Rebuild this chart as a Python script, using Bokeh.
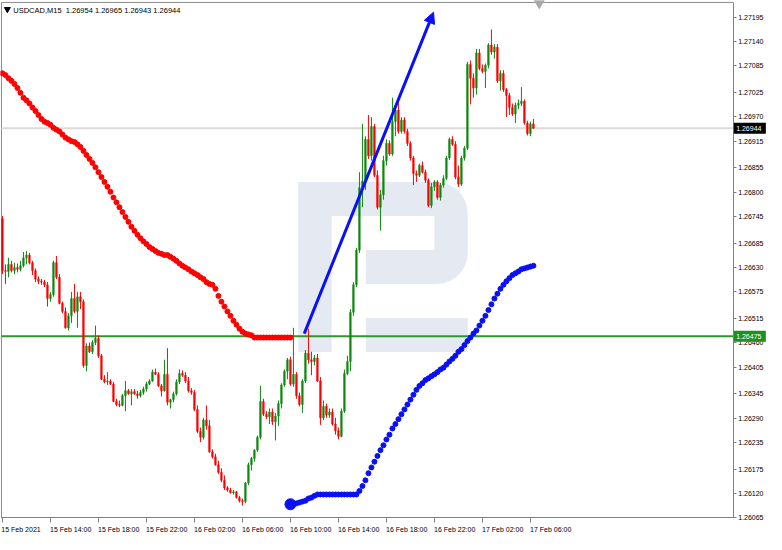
import numpy as np
from bokeh.plotting import figure
from bokeh.models import FixedTicker, PrintfTickFormatter, Arrow, NormalHead, ColumnDataSource
from bokeh.core.properties import value
from bokeh.embed import file_html
from bokeh.resources import INLINE

# ---------------- data ----------------
symbol = "USDCAD,M15"
x_tick_index = [0, 16, 32, 48, 64, 80, 96, 112, 128, 144, 160, 176]
x_tick_labels = ["15 Feb 2021", "15 Feb 14:00", "15 Feb 18:00", "15 Feb 22:00",
                 "16 Feb 02:00", "16 Feb 06:00", "16 Feb 10:00", "16 Feb 14:00",
                 "16 Feb 18:00", "16 Feb 22:00", "17 Feb 02:00", "17 Feb 06:00"]
y_ticks = [1.26065, 1.26120, 1.26175, 1.26235, 1.26290, 1.26345, 1.26405, 1.26460,
           1.26515, 1.26575, 1.26630, 1.26685, 1.26745, 1.26800, 1.26855, 1.26915,
           1.26970, 1.27025, 1.27085, 1.27140, 1.27195]

opens = [1.26740, 1.26623, 1.26621, 1.26637, 1.26623, 1.26630, 1.26626, 1.26634, 1.26652, 1.26658,
         1.26641, 1.26623, 1.26604, 1.26599, 1.26597, 1.26591, 1.26560, 1.26569, 1.26641, 1.26608,
         1.26549, 1.26531, 1.26494, 1.26521, 1.26560, 1.26531, 1.26564, 1.26553, 1.26409, 1.26453,
         1.26440, 1.26461, 1.26470, 1.26431, 1.26378, 1.26372, 1.26374, 1.26367, 1.26328, 1.26321,
         1.26319, 1.26341, 1.26352, 1.26345, 1.26350, 1.26345, 1.26341, 1.26348, 1.26356, 1.26367,
         1.26374, 1.26394, 1.26389, 1.26363, 1.26352, 1.26389, 1.26326, 1.26332, 1.26345, 1.26372,
         1.26391, 1.26387, 1.26374, 1.26352, 1.26348, 1.26310, 1.26260, 1.26247, 1.26286, 1.26273,
         1.26214, 1.26203, 1.26185, 1.26168, 1.26150, 1.26133, 1.26128, 1.26122, 1.26124, 1.26111,
         1.26104, 1.26102, 1.26144, 1.26185, 1.26199, 1.26218, 1.26247, 1.26328, 1.26299, 1.26293,
         1.26304, 1.26282, 1.26295, 1.26323, 1.26365, 1.26396, 1.26422, 1.26367, 1.26389, 1.26341,
         1.26321, 1.26374, 1.26437, 1.26422, 1.26418, 1.26426, 1.26374, 1.26291, 1.26317, 1.26297,
         1.26304, 1.26277, 1.26262, 1.26249, 1.26306, 1.26391, 1.26418, 1.26529, 1.26591, 1.26669,
         1.26810, 1.26825, 1.26919, 1.26882, 1.26948, 1.26838, 1.26766, 1.26794, 1.26871, 1.26910,
         1.26886, 1.26959, 1.26985, 1.26937, 1.26963, 1.26937, 1.26910, 1.26877, 1.26842, 1.26838,
         1.26860, 1.26845, 1.26827, 1.26770, 1.26812, 1.26823, 1.26788, 1.26816, 1.26831, 1.26877,
         1.26919, 1.26908, 1.26834, 1.26818, 1.26877, 1.26899, 1.27088, 1.27057, 1.27035, 1.27114,
         1.27079, 1.27072, 1.27086, 1.27132, 1.27116, 1.27127, 1.27051, 1.27068, 1.27031, 1.27018,
         1.26991, 1.26976, 1.26996, 1.27000, 1.27005, 1.26956, 1.26932, 1.26954]

highs = [1.26746, 1.26637, 1.26652, 1.26645, 1.26641, 1.26639, 1.26645, 1.26665, 1.26667, 1.26663,
         1.26645, 1.26628, 1.26610, 1.26604, 1.26602, 1.26597, 1.26575, 1.26645, 1.26656, 1.26615,
         1.26553, 1.26540, 1.26527, 1.26575, 1.26593, 1.26575, 1.26575, 1.26558, 1.26459, 1.26461,
         1.26466, 1.26499, 1.26477, 1.26435, 1.26387, 1.26394, 1.26378, 1.26372, 1.26334, 1.26330,
         1.26345, 1.26374, 1.26356, 1.26356, 1.26356, 1.26352, 1.26354, 1.26361, 1.26372, 1.26378,
         1.26400, 1.26402, 1.26394, 1.26367, 1.26422, 1.26448, 1.26334, 1.26350, 1.26378, 1.26400,
         1.26398, 1.26394, 1.26383, 1.26358, 1.26354, 1.26319, 1.26269, 1.26291, 1.26319, 1.26286,
         1.26220, 1.26210, 1.26194, 1.26177, 1.26161, 1.26137, 1.26133, 1.26128, 1.26126, 1.26115,
         1.26109, 1.26146, 1.26190, 1.26203, 1.26220, 1.26251, 1.26363, 1.26334, 1.26306, 1.26312,
         1.26312, 1.26302, 1.26330, 1.26369, 1.26400, 1.26426, 1.26429, 1.26494, 1.26394, 1.26348,
         1.26378, 1.26444, 1.26492, 1.26440, 1.26433, 1.26435, 1.26383, 1.26330, 1.26323, 1.26312,
         1.26312, 1.26291, 1.26269, 1.26312, 1.26400, 1.26431, 1.26536, 1.26597, 1.26674, 1.26845,
         1.26954, 1.26926, 1.26974, 1.26969, 1.26954, 1.26849, 1.26805, 1.26882, 1.26919, 1.26917,
         1.27013, 1.26991, 1.27007, 1.26969, 1.26969, 1.26943, 1.26915, 1.26882, 1.26849, 1.26864,
         1.26869, 1.26851, 1.26831, 1.26821, 1.26827, 1.26827, 1.26821, 1.26838, 1.26882, 1.26923,
         1.26926, 1.26915, 1.26860, 1.26882, 1.26904, 1.27094, 1.27097, 1.27068, 1.27123, 1.27123,
         1.27088, 1.27090, 1.27136, 1.27167, 1.27134, 1.27134, 1.27075, 1.27075, 1.27035, 1.27024,
         1.27000, 1.27002, 1.27009, 1.27037, 1.27009, 1.26961, 1.26959, 1.26965]

lows = [1.26615, 1.26593, 1.26608, 1.26619, 1.26615, 1.26619, 1.26621, 1.26630, 1.26637, 1.26637,
        1.26613, 1.26597, 1.26593, 1.26591, 1.26586, 1.26542, 1.26553, 1.26564, 1.26604, 1.26547,
        1.26527, 1.26492, 1.26488, 1.26505, 1.26527, 1.26494, 1.26536, 1.26404, 1.26396, 1.26437,
        1.26435, 1.26455, 1.26426, 1.26376, 1.26369, 1.26365, 1.26365, 1.26326, 1.26317, 1.26315,
        1.26317, 1.26306, 1.26343, 1.26319, 1.26343, 1.26334, 1.26337, 1.26343, 1.26350, 1.26365,
        1.26372, 1.26387, 1.26361, 1.26339, 1.26350, 1.26319, 1.26312, 1.26326, 1.26341, 1.26367,
        1.26383, 1.26369, 1.26348, 1.26343, 1.26306, 1.26256, 1.26236, 1.26242, 1.26264, 1.26212,
        1.26199, 1.26183, 1.26164, 1.26146, 1.26128, 1.26124, 1.26120, 1.26118, 1.26109, 1.26100,
        1.26093, 1.26098, 1.26139, 1.26172, 1.26192, 1.26214, 1.26242, 1.26295, 1.26288, 1.26277,
        1.26275, 1.26240, 1.26273, 1.26312, 1.26361, 1.26378, 1.26363, 1.26361, 1.26334, 1.26317,
        1.26302, 1.26369, 1.26413, 1.26387, 1.26409, 1.26372, 1.26275, 1.26286, 1.26291, 1.26291,
        1.26273, 1.26253, 1.26242, 1.26247, 1.26302, 1.26387, 1.26396, 1.26521, 1.26586, 1.26663,
        1.26766, 1.26805, 1.26875, 1.26871, 1.26834, 1.26761, 1.26713, 1.26783, 1.26860, 1.26882,
        1.26882, 1.26926, 1.26932, 1.26932, 1.26932, 1.26904, 1.26871, 1.26816, 1.26823, 1.26834,
        1.26842, 1.26821, 1.26766, 1.26764, 1.26803, 1.26783, 1.26781, 1.26810, 1.26827, 1.26873,
        1.26904, 1.26829, 1.26812, 1.26814, 1.26871, 1.26895, 1.26998, 1.27013, 1.27020, 1.27075,
        1.27068, 1.27035, 1.27079, 1.27110, 1.27101, 1.27046, 1.27029, 1.27026, 1.26969, 1.26974,
        1.26972, 1.26956, 1.26987, 1.26994, 1.26952, 1.26928, 1.26926, 1.26943]

closes = [1.26623, 1.26621, 1.26637, 1.26623, 1.26630, 1.26626, 1.26634, 1.26652, 1.26658, 1.26641,
          1.26623, 1.26604, 1.26599, 1.26597, 1.26591, 1.26560, 1.26569, 1.26641, 1.26608, 1.26549,
          1.26531, 1.26494, 1.26521, 1.26560, 1.26531, 1.26564, 1.26553, 1.26409, 1.26453, 1.26440,
          1.26461, 1.26470, 1.26431, 1.26378, 1.26372, 1.26374, 1.26367, 1.26328, 1.26321, 1.26319,
          1.26341, 1.26352, 1.26345, 1.26350, 1.26345, 1.26341, 1.26348, 1.26356, 1.26367, 1.26374,
          1.26394, 1.26389, 1.26363, 1.26352, 1.26389, 1.26326, 1.26332, 1.26345, 1.26372, 1.26391,
          1.26387, 1.26374, 1.26352, 1.26348, 1.26310, 1.26260, 1.26247, 1.26286, 1.26273, 1.26214,
          1.26203, 1.26185, 1.26168, 1.26150, 1.26133, 1.26128, 1.26122, 1.26124, 1.26111, 1.26104,
          1.26102, 1.26144, 1.26185, 1.26199, 1.26218, 1.26247, 1.26328, 1.26299, 1.26293, 1.26304,
          1.26282, 1.26295, 1.26323, 1.26365, 1.26396, 1.26422, 1.26367, 1.26389, 1.26341, 1.26321,
          1.26374, 1.26437, 1.26422, 1.26418, 1.26426, 1.26374, 1.26291, 1.26317, 1.26297, 1.26304,
          1.26277, 1.26262, 1.26249, 1.26306, 1.26391, 1.26418, 1.26529, 1.26591, 1.26669, 1.26810,
          1.26825, 1.26919, 1.26882, 1.26948, 1.26838, 1.26766, 1.26794, 1.26871, 1.26910, 1.26886,
          1.26959, 1.26985, 1.26937, 1.26963, 1.26937, 1.26910, 1.26877, 1.26842, 1.26838, 1.26860,
          1.26845, 1.26827, 1.26770, 1.26812, 1.26823, 1.26788, 1.26816, 1.26831, 1.26877, 1.26919,
          1.26908, 1.26834, 1.26818, 1.26877, 1.26899, 1.27088, 1.27057, 1.27035, 1.27114, 1.27079,
          1.27072, 1.27086, 1.27132, 1.27116, 1.27127, 1.27051, 1.27068, 1.27031, 1.27018, 1.26991,
          1.26976, 1.26996, 1.27000, 1.27005, 1.26956, 1.26932, 1.26954, 1.26944]

# red dotted indicator (bars 0..96)
red_line = [1.27068, 1.27064, 1.27057, 1.27051, 1.27044, 1.27035, 1.27024, 1.27013, 1.27007, 1.27000,
            1.26991, 1.26983, 1.26974, 1.26965, 1.26959, 1.26956, 1.26952, 1.26945, 1.26941, 1.26937,
            1.26930, 1.26923, 1.26919, 1.26915, 1.26913, 1.26908, 1.26902, 1.26893, 1.26884, 1.26875,
            1.26866, 1.26856, 1.26845, 1.26834, 1.26823, 1.26812, 1.26801, 1.26788, 1.26777, 1.26766,
            1.26755, 1.26744, 1.26733, 1.26722, 1.26713, 1.26704, 1.26696, 1.26689, 1.26683, 1.26676,
            1.26672, 1.26667, 1.26663, 1.26661, 1.26658, 1.26658, 1.26654, 1.26650, 1.26645, 1.26639,
            1.26634, 1.26630, 1.26626, 1.26621, 1.26617, 1.26613, 1.26608, 1.26604, 1.26597, 1.26593,
            1.26591, 1.26582, 1.26566, 1.26553, 1.26542, 1.26531, 1.26521, 1.26510, 1.26501, 1.26492,
            1.26485, 1.26481, 1.26479, 1.26477, 1.26472, 1.26472, 1.26472, 1.26472, 1.26472, 1.26472,
            1.26472, 1.26472, 1.26472, 1.26472, 1.26472, 1.26472, 1.26472]

# blue dotted indicator (bars 96..177)
blue_start = 96
blue_line = [1.26096, 1.26096, 1.26098, 1.26100, 1.26102, 1.26104, 1.26109, 1.26111, 1.26115, 1.26118,
             1.26118, 1.26118, 1.26118, 1.26118, 1.26118, 1.26118, 1.26118, 1.26118, 1.26118, 1.26118,
             1.26118, 1.26118, 1.26118, 1.26126, 1.26137, 1.26150, 1.26166, 1.26179, 1.26192, 1.26205,
             1.26218, 1.26229, 1.26242, 1.26253, 1.26267, 1.26277, 1.26288, 1.26299, 1.26310, 1.26321,
             1.26332, 1.26343, 1.26354, 1.26363, 1.26369, 1.26376, 1.26380, 1.26385, 1.26389, 1.26394,
             1.26400, 1.26404, 1.26411, 1.26418, 1.26424, 1.26431, 1.26440, 1.26446, 1.26455, 1.26464,
             1.26472, 1.26481, 1.26488, 1.26499, 1.26510, 1.26521, 1.26534, 1.26547, 1.26560, 1.26571,
             1.26582, 1.26591, 1.26599, 1.26606, 1.26613, 1.26617, 1.26621, 1.26626, 1.26628, 1.26630,
             1.26632, 1.26634]

support_level = 1.26475
current_price = 1.26944
arrow_x = [100.6, 143.7]
arrow_y = [1.26481, 1.27206]


# ------------- layout helpers (reference pixel -> data space) -------------
def px_x(rx):
    return (rx - 2) / 3.0625


def px_y(ry):
    return 1.26065 + (533 - ry) * 0.0000219


XL, XR = px_x(1), px_x(748)          # chart area edges
YB, YT = 1.26065, px_y(2)
FONT = "Liberation Sans"
UP, DOWN = "#0e8a0e", "#ff0000"
BLUE = "#0a10f5"
GRAY = "#808080"

p = figure(width=766, height=534, x_range=(px_x(0), px_x(782)),
           y_range=(px_y(550), px_y(0)), output_backend="svg", toolbar_location=None,
           y_axis_location="right", title=None,
           min_border_left=0, min_border_top=0, min_border_right=0, min_border_bottom=0)
p.grid.visible = False
p.outline_line_color = None
p.background_fill_color = "white"
p.border_fill_color = "white"


def arc(cx, cy, r, a0, a1, n=8):
    a = np.radians(np.linspace(a0, a1, n))
    return list(cx + r * np.cos(a)), list(cy - r * np.sin(a))


# watermark logo
ax1, ay1 = arc(445, 219, 32, 90, 0)
ax2, ay2 = arc(445, 260, 32, 0, -90)
logo_px = [304] + ax1 + ax2 + [373, 373, 443, 443, 338, 338, 304]
logo_py = [187] + ay1 + ay2 + [292, 257, 257, 222, 222, 362, 362]
wm = "#e4e9f2"
p.patch([px_x(v) for v in logo_px], [px_y(v) for v in logo_py], fill_color=wm, line_color=None)
blk_px = [373, 477, 477, 373]
blk_py = [327, 327, 362, 362]
p.patch([px_x(v) for v in blk_px], [px_y(v) for v in blk_py], fill_color=wm, line_color=None)

# chart border (left / top)
p.segment(x0=[XL, XL], y0=[YB, YT], x1=[XL, XR], y1=[YT, YT], line_color="#8c8c8c", line_width=1)

# horizontal price lines
p.segment(x0=[XL], y0=[current_price], x1=[XR], y1=[current_price], line_color="#dadada", line_width=2)
p.segment(x0=[XL], y0=[support_level], x1=[XR], y1=[support_level], line_color="#2f962f", line_width=2)

# candles
idx = list(range(len(closes)))
cols = [UP if c >= o else DOWN for o, c in zip(opens, closes)]
tops = [max(o, c) for o, c in zip(opens, closes)]
bots = [min(o, c) for o, c in zip(opens, closes)]
src = ColumnDataSource(dict(x=idx, h=highs, l=lows, top=tops, bot=bots, col=cols))
p.segment(x0="x", y0="l", x1="x", y1="h", color="col", line_width=1, source=src)
p.vbar(x="x", width=0.45, top="top", bottom="bot", fill_color="col",
       line_color="col", line_width=0.8, source=src)

# indicators
p.scatter(x=list(range(len(red_line))), y=red_line, size=5, color="#ff0000", marker="circle")
p.scatter(x=[blue_start + k for k in range(len(blue_line))], y=blue_line, size=5,
          color=BLUE, marker="circle")
p.scatter(x=[blue_start], y=[blue_line[0]], size=11, color=BLUE, marker="circle")

# arrow
p.add_layout(Arrow(end=NormalHead(size=11, fill_color=BLUE, line_color=BLUE),
                   x_start=arrow_x[0], y_start=arrow_y[0], x_end=arrow_x[1], y_end=arrow_y[1],
                   line_color=BLUE, line_width=3))

# header text and markers
title = symbol + "\u00a0\u00a0" + " ".join(f"{v:.5f}" for v in
                                           [opens[-1], highs[-1], lows[-1], closes[-1]])
p.scatter(x=[px_x(7)], y=[px_y(9)], marker="inverted_triangle", size=6, color="black")
p.text(x=[px_x(13)], y=[px_y(10)], text=[title], text_font=value(FONT),
       text_font_size="7.5px", text_baseline="middle", text_color="black")
p.scatter(x=[px_x(550)], y=[px_y(2.5)], marker="inverted_triangle", size=10, color="#a8a8a8")

# x axis: labels start at each tick (label anchor shifted by half the label width)
label_pos = [t + 0.5625 * len(s) for t, s in zip(x_tick_index, x_tick_labels)]
xa = p.xaxis[0]
xa.fixed_location = YB
xa.bounds = (XL, XR)
xa.ticker = FixedTicker(ticks=label_pos, minor_ticks=x_tick_index)
xa.major_label_overrides = {v: s for v, s in zip(label_pos, x_tick_labels)}
xa.major_tick_out = 0
xa.major_tick_in = 0
xa.minor_tick_out = 5
xa.minor_tick_in = 0
xa.major_label_standoff = 3
xa.major_label_text_font_size = "7px"
xa.major_label_text_font = FONT
xa.major_label_text_color = "black"
xa.axis_line_color = GRAY
xa.minor_tick_line_color = GRAY

ya = p.yaxis[0]
ya.fixed_location = XR
ya.bounds = (YB, YT)
ya.ticker = FixedTicker(ticks=y_ticks)
ya.formatter = PrintfTickFormatter(format="%.5f")
ya.major_label_text_font_size = "7px"
ya.major_label_text_font = FONT
ya.major_label_text_color = "black"
ya.major_label_standoff = 2
ya.major_tick_out = 3
ya.major_tick_in = 0
ya.minor_tick_out = 0
ya.minor_tick_in = 0
ya.axis_line_color = GRAY
ya.major_tick_line_color = GRAY

# price tags on the right scale
tag_x = px_x(765)
tags = p.rect(x=[tag_x, tag_x], y=[current_price, support_level], width=32, height=11,
              width_units="screen", height_units="screen",
              fill_color=["black", "#1f8f1f"], line_color=None)
tags.level = "overlay"
tag_text = p.text(x=[px_x(751), px_x(751)], y=[current_price, support_level],
                  text=[f"{current_price:.5f}", f"{support_level:.5f}"],
                  text_font=value(FONT), text_font_size="7px", text_baseline="middle",
                  text_color="white")
tag_text.level = "overlay"

open("out.html", "w").write(file_html(p, INLINE))
